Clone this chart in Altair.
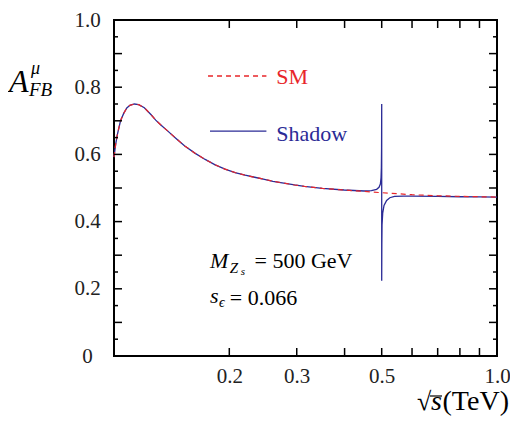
import altair as alt
import pandas as pd

# ---- data ----
sm_x = [0.100, 0.101, 0.102, 0.104, 0.106, 0.108, 0.110, 0.113, 0.116, 0.120,
        0.125, 0.1285, 0.133, 0.138, 0.1447, 0.153, 0.163, 0.173, 0.1837, 0.195,
        0.207, 0.220, 0.233, 0.247, 0.260, 0.280, 0.296, 0.314, 0.350, 0.399,
        0.450, 0.500, 0.550, 0.600, 0.700, 0.800, 0.900, 1.000]
sm_y = [0.592, 0.630, 0.658, 0.700, 0.722, 0.738, 0.746, 0.750, 0.748, 0.739,
        0.718, 0.702, 0.686, 0.670, 0.649, 0.625, 0.603, 0.585, 0.569, 0.556,
        0.546, 0.538, 0.532, 0.526, 0.520, 0.514, 0.509, 0.505, 0.499, 0.494,
        0.490, 0.486, 0.483, 0.480, 0.477, 0.475, 0.474, 0.473]

sh_x = [0.100, 0.101, 0.102, 0.104, 0.106, 0.108, 0.110, 0.113, 0.116, 0.120,
        0.125, 0.1285, 0.133, 0.138, 0.1447, 0.153, 0.163, 0.173, 0.1837, 0.195,
        0.207, 0.220, 0.233, 0.247, 0.260, 0.280, 0.296, 0.314, 0.350, 0.399,
        0.450, 0.470, 0.485, 0.492, 0.496, 0.498, 0.499, 0.4996, 0.500, 0.500,
        0.5004, 0.501, 0.503, 0.507, 0.515, 0.525, 0.540, 0.570, 0.600, 0.700,
        0.800, 0.900, 1.000]
sh_y = [0.592, 0.630, 0.658, 0.700, 0.722, 0.738, 0.746, 0.750, 0.748, 0.739,
        0.718, 0.702, 0.686, 0.670, 0.649, 0.625, 0.603, 0.585, 0.569, 0.556,
        0.546, 0.538, 0.532, 0.526, 0.520, 0.514, 0.509, 0.505, 0.499, 0.494,
        0.491, 0.492, 0.496, 0.502, 0.512, 0.530, 0.560, 0.620, 0.750, 0.224,
        0.330, 0.390, 0.425, 0.448, 0.463, 0.471, 0.475, 0.476, 0.476, 0.475,
        0.474, 0.4735, 0.473]

x_tick_values = [0.2, 0.3, 0.4, 0.5, 0.6, 0.7, 0.8, 0.9]
x_label_values = [0.2, 0.3, 0.5, 1.0]
y_label_values = [0, 0.2, 0.4, 0.6, 0.8, 1.0]
y_major_ticks = [0.1, 0.2, 0.3, 0.4, 0.5, 0.6, 0.7, 0.8, 0.9]
y_minor_ticks = [0.05, 0.15, 0.25, 0.35, 0.45, 0.55, 0.65, 0.75, 0.85, 0.95]

FONT = "Liberation Serif"
RED = "#e8262a"
BLUE = "#2b2b96"
W, H = 383, 336
LEFT, TOP, RIGHT, BOTTOM = 106, 12, 13, 62


def X(p):  # position measured on a 387 px wide plot
    return p * W / 387


def Y(p):  # position measured on a 348 px tall plot
    return p * H / 348


xs = alt.Scale(type="log", domain=[0.1, 1.0], nice=False)
ys = alt.Scale(domain=[0, 1], nice=False, zero=False)

xax = alt.Axis(values=x_label_values, labelExpr="format(datum.value, '.1f')",
               ticks=False, domain=False, grid=False, title=None,
               labelFont=FONT, labelFontSize=21, labelColor="#222222",
               labelPadding=9, labelFlush=False, labelOverlap=False)
yax = alt.Axis(values=y_label_values,
               labelExpr="datum.value == 0 ? '0' : format(datum.value, '.1f')",
               ticks=False, domain=False, grid=False, title=None,
               labelFont=FONT, labelFontSize=21, labelColor="#222222",
               labelAlign="center", labelBaseline="middle", labelPadding=27,
               labelFlush=False, labelOverlap=False)

sm_df = pd.DataFrame({"x": sm_x, "y": sm_y, "i": list(range(len(sm_x)))})
sh_df = pd.DataFrame({"x": sh_x, "y": sh_y, "i": list(range(len(sh_x)))})

shadow = alt.Chart(sh_df).mark_line(color=BLUE, strokeWidth=1.3).encode(
    x=alt.X("x:Q", scale=xs, axis=xax),
    y=alt.Y("y:Q", scale=ys, axis=yax),
    order="i:Q")
sm = alt.Chart(sm_df).mark_line(color=RED, strokeWidth=1.2, strokeDash=[5, 4]).encode(
    x=alt.X("x:Q", scale=xs, axis=xax),
    y=alt.Y("y:Q", scale=ys, axis=yax),
    order="i:Q")

xt = pd.DataFrame({"x": x_tick_values})
bot_ticks = alt.Chart(xt).mark_rule(color="black", strokeWidth=1.5).encode(
    x=alt.X("x:Q", scale=xs, axis=xax), y=alt.value(H), y2=alt.value(H - 8))
top_ticks = alt.Chart(xt).mark_rule(color="black", strokeWidth=1.5).encode(
    x=alt.X("x:Q", scale=xs, axis=xax), y=alt.value(0), y2=alt.value(8))

ymaj = pd.DataFrame({"y": y_major_ticks})
ymin = pd.DataFrame({"y": y_minor_ticks})


def yticks(df, x0, x1):
    return alt.Chart(df).mark_rule(color="black", strokeWidth=1.5).encode(
        y=alt.Y("y:Q", scale=ys, axis=yax), x=alt.value(x0), x2=alt.value(x1))


ytick_layers = [yticks(ymaj, 0, 8), yticks(ymin, 0, 4),
                yticks(ymaj, W, W - 8), yticks(ymin, W, W - 4)]


def txt(s, x, y, size, color="black", style="normal", align="left"):
    return alt.Chart(pd.DataFrame({"t": [s]})).mark_text(
        align=align, baseline="alphabetic", font=FONT, fontSize=size,
        fontStyle=style, color=color).encode(
        text="t:N", x=alt.value(x), y=alt.value(y))


def seg(x0, x1, y, color, dash=None, width=1.3):
    kw = dict(color=color, strokeWidth=width)
    if dash:
        kw["strokeDash"] = dash
    return alt.Chart(pd.DataFrame({"a": [0]})).mark_rule(**kw).encode(
        x=alt.value(x0), x2=alt.value(x1), y=alt.value(y))


legend = [
    seg(X(95), X(154), Y(58), RED, dash=[5, 4]),
    txt("SM", X(164), Y(66), 22, color=RED),
    seg(X(97), X(154), Y(115), BLUE),
    txt("Shadow", X(164), Y(125), 22, color=BLUE),
]

notes = [
    txt("M", X(97), Y(257), 22, style="italic"),
    txt("Z", X(117), Y(262), 15, style="italic"),
    txt("s", X(128), Y(264), 11, style="italic"),
    txt("= 500 GeV", X(142), Y(257), 22),
    txt("s", X(97), Y(293), 22, style="italic"),
    txt("ϵ", X(106), Y(297), 14, style="italic"),
    txt("= 0.066", X(117), Y(295), 22),
    # y title
    txt("A", -105, 72, 32, style="italic"),
    txt("μ", -83, 54, 18, style="italic"),
    txt("FB", -85, 76, 19, style="italic"),
    # x title
    txt("√", W - 80, 390, 26),
    txt("s", W - 66, 390, 28, style="italic"),
    seg(W - 67, W - 55, 376, "black", width=1.2),
    txt("(TeV)", W + 12, 390, 28, align="right"),
]

chart = alt.layer(shadow, sm, bot_ticks, top_ticks, *ytick_layers, *legend, *notes).properties(
    width=W, height=H,
    autosize=alt.AutoSizeParams(type="none"),
    padding={"left": LEFT, "top": TOP, "right": RIGHT, "bottom": BOTTOM},
).configure_view(stroke="black", strokeWidth=2)

chart.save("out.html", embed_options={"renderer": "svg", "actions": False})
